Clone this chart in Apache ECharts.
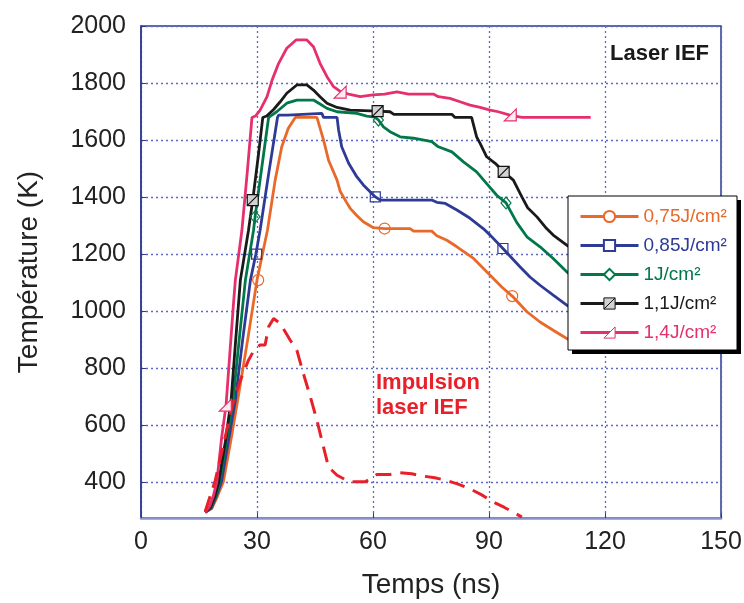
<!DOCTYPE html>
<html><head><meta charset="utf-8">
<script src="https://cdn.jsdelivr.net/npm/echarts@6/dist/echarts.min.js"></script>
<style>html,body{margin:0;padding:0;background:#fff}#c{width:744px;height:603px}</style>
</head><body><div id="c"></div>
<script>
// ---- data ----
const xTicks = [0, 30, 60, 90, 120, 150];
const yTicks = [400, 600, 800, 1000, 1200, 1400, 1600, 1800, 2000];
const names = ['0,75J/cm²', '0,85J/cm²', '1J/cm²', '1,1J/cm²', '1,4J/cm²'];

const t075 = [[16.6,293],[18.3,306],[19.8,350],[21.3,400],[23.3,550],[25.0,686],[27.6,900],[30.0,1108],[32.7,1283],[34.7,1459],[36.4,1576],[38.1,1641],[39.9,1679],[45.5,1679],[47.2,1600],[48.5,1529],[50.7,1459],[51.5,1420],[53.2,1380],[54.1,1360],[55.8,1335],[57.5,1313],[60.1,1292],[63.0,1289],[69.6,1289],[70.5,1280],[75.2,1280],[76.5,1264],[79.1,1248],[81.7,1225],[86.0,1184],[90.3,1125],[93.3,1084],[96.0,1052],[99.8,997],[103.2,961],[106.6,932],[110.1,903],[112.3,888]];
const t085 = [[16.6,293],[18.2,308],[19.5,350],[20.8,400],[22.7,550],[24.4,686],[26.3,900],[28.3,1108],[29.7,1199],[30.8,1283],[33.0,1480],[35.3,1679],[35.6,1687],[38.0,1687],[38.3,1693],[46.8,1693],[47.2,1679],[50.7,1679],[51.1,1635],[51.9,1576],[53.7,1518],[55.8,1471],[57.5,1442],[59.7,1412],[60.6,1400],[61.9,1389],[75.2,1389],[76.5,1381],[78.7,1377],[81.7,1354],[85.1,1325],[88.5,1289],[90.3,1266],[93.6,1219],[98.0,1155],[100.6,1119],[103.2,1090],[106.6,1055],[110.1,1020],[112.3,1000]];
const t100 = [[16.6,293],[18.1,310],[19.3,350],[20.4,400],[22.2,550],[23.8,686],[25.4,900],[27.0,1108],[29.1,1283],[29.5,1330],[31.2,1500],[33.0,1679],[35.1,1699],[37.7,1729],[40.3,1740],[44.6,1740],[46.3,1726],[48.1,1711],[50.7,1699],[55.8,1693],[58.4,1684],[60.5,1680],[61.4,1670],[62.7,1646],[64.4,1629],[67.0,1611],[70.5,1606],[75.2,1594],[76.9,1576],[80.4,1558],[83.4,1523],[86.8,1488],[89.4,1447],[92.0,1406],[94.4,1379],[97.2,1310],[99.8,1260],[103.2,1225],[106.6,1184],[110.1,1137],[112.3,1115]];
const t110 = [[16.6,293],[18.0,312],[19.1,350],[20.1,400],[21.8,540],[23.3,686],[24.5,900],[25.7,1108],[27.8,1283],[28.9,1389],[30.3,1540],[31.5,1679],[32.5,1684],[34.3,1707],[36.0,1734],[37.7,1764],[40.3,1793],[42.9,1793],[44.6,1775],[46.3,1752],[48.1,1729],[50.7,1714],[54.1,1705],[61.2,1701],[64.4,1699],[65.4,1690],[80.4,1690],[81.2,1679],[85.5,1679],[86.8,1611],[87.7,1588],[89.4,1541],[91.6,1518],[93.8,1488],[96.3,1459],[98.5,1400],[100.0,1362],[102.4,1330],[104.9,1289],[106.6,1266],[110.1,1231],[112.3,1210]];
const t140 = [[16.6,293],[17.8,315],[18.7,350],[19.6,400],[20.9,560],[22.0,669],[23.1,874],[24.0,1040],[24.4,1108],[26.1,1283],[27.5,1490],[28.7,1679],[29.6,1684],[30.8,1705],[32.6,1752],[33.9,1810],[35.6,1869],[37.7,1922],[40.1,1951],[42.9,1951],[44.6,1927],[46.3,1869],[48.1,1822],[49.8,1787],[51.8,1768],[53.7,1761],[56.7,1752],[60.0,1758],[63.0,1761],[66.2,1769],[69.2,1761],[75.6,1761],[76.9,1752],[79.9,1746],[82.5,1734],[85.1,1722],[87.7,1714],[90.3,1705],[92.4,1699],[95.4,1687],[98.5,1679],[116.3,1679]];
const pulse = [[16.6,296],[19.2,405],[21.4,534],[23.5,663],[25.7,757],[27.8,827],[29.5,868],[30.8,880],[32.1,880],[33.0,944],[34.3,973],[36.0,956],[38.6,897],[40.3,862],[42.0,780],[43.8,698],[45.5,616],[47.2,522],[48.5,452],[50.7,423],[53.2,405],[54.5,400],[58.0,400],[61.0,426],[64.4,426],[67.0,432],[70.0,428],[73.0,420],[76.0,414],[79.0,405],[82.0,392],[85.0,376],[88.0,355],[91.0,330],[94.0,310],[97.0,288],[98.5,276]];

const m075 = [[30.3,1108],[63.0,1289],[96.0,1052]];
const m085 = [[29.9,1199],[60.6,1400],[93.6,1219]];
const m100 = [[29.5,1330],[61.4,1670],[94.4,1379]];
const m110 = [[28.9,1389],[61.2,1701],[93.8,1488]];
const m140 = [[21.8,669],[51.5,1768],[95.5,1688]];

// ---- styling ----
const FONT = '"Liberation Sans", Arial, Helvetica, sans-serif';
const colors = ['#e8692a', '#2e3b96', '#00784a', '#1a1a1a', '#e6306e'];
const SQ_DIAG = 'path://M0,0H10V10H0ZM0,10L10,0';
const TRI = 'path://M0,10L10,0L10,10Z';
const lineSymbols = ['emptyCircle', 'emptyRect', 'emptyDiamond', SQ_DIAG, TRI];
const lineData = [t075, t085, t100, t110, t140];
const markData = [m075, m085, m100, m110, m140];
const markSymbols = ['circle', 'rect', 'diamond', SQ_DIAG, TRI];
const markSizes = [11, 10, [10, 12], 11, 12];
const markFill = ['rgba(0,0,0,0)', 'rgba(0,0,0,0)', 'rgba(0,0,0,0)', '#d2d2d2', '#fdecf1'];
const markBorder = ['#e8692a', '#2e3b96', '#00784a', '#111', '#e6306e'];

const series = [];
lineData.forEach((d, i) => {
  series.push({
    type: 'line', name: names[i], data: d, symbol: lineSymbols[i], showSymbol: false,
    lineStyle: { color: colors[i], width: 2.8 }, itemStyle: { color: colors[i] },
    silent: true, animation: false, z: 2
  });
});
series.push({
  type: 'line', name: 'pulse', data: pulse, symbol: 'none', showSymbol: false,
  lineStyle: { color: '#e8202a', width: 3, type: [16, 9] }, silent: true, animation: false, z: 3
});
markData.forEach((d, i) => {
  series.push({
    type: 'scatter', name: 'mk' + i, data: d, symbol: markSymbols[i], symbolSize: markSizes[i],
    itemStyle: { color: markFill[i], borderColor: markBorder[i], borderWidth: 1.2, opacity: 1 },
    silent: true, animation: false, z: 3
  });
});

const legendData = names.map((n, i) => {
  const o = { name: n, textStyle: { color: colors[i] } };
  if (i === 3) o.itemStyle = { color: '#d2d2d2', borderColor: '#111', borderWidth: 1 };
  if (i === 4) o.itemStyle = { color: '#fff', borderColor: colors[4], borderWidth: 1 };
  return o;
});

const chart = echarts.init(document.getElementById('c'), null, { renderer: 'canvas' });
chart.setOption({
  animation: false,
  backgroundColor: '#fff',
  grid: { left: 141, right: 23, top: 26, bottom: 85, show: true, borderColor: '#2b3990', borderWidth: 1.5, outerBoundsMode: 'none', containLabel: false },
  xAxis: {
    type: 'value', min: xTicks[0], max: xTicks[xTicks.length - 1], interval: 30,
    axisLine: { show: true, lineStyle: { color: '#8a93cf', width: 2.5 } },
    axisTick: { show: true, inside: true, length: 5, lineStyle: { color: '#2b3990', width: 1 } },
    axisLabel: { color: '#222', fontSize: 25, fontFamily: FONT, margin: 12 },
    splitLine: { show: true, lineStyle: { color: '#5b6ac4', width: 1.3, type: [2, 3] } },
    name: 'Temps (ns)', nameLocation: 'middle', nameGap: 53,
    nameTextStyle: { color: '#222', fontSize: 28, fontFamily: FONT }
  },
  yAxis: {
    type: 'value', min: 273, max: 2000,
    axisLine: { show: true, lineStyle: { color: '#2b3990', width: 1.5 } },
    axisTick: { show: true, inside: true, length: 5, customValues: yTicks, lineStyle: { color: '#2b3990', width: 1 } },
    axisLabel: { color: '#222', fontSize: 25, fontFamily: FONT, margin: 15, customValues: yTicks, formatter: v => String(v) },
    splitLine: { show: true, lineStyle: { color: '#5b6ac4', width: 1.3, type: [2, 3] } },
    name: 'Température (K)', nameLocation: 'middle', nameGap: 98, nameRotate: 90,
    nameTextStyle: { color: '#222', fontSize: 28, fontFamily: FONT }
  },
  legend: {
    data: legendData, orient: 'vertical', left: 568, top: 196, z: 6,
    padding: [11, 10, 12, 11], itemWidth: 58, itemHeight: 14, itemGap: 10,
    backgroundColor: 'transparent', borderWidth: 0,
    lineStyle: { width: 3 },
    textStyle: { fontSize: 19, fontFamily: FONT },
    selectedMode: false
  },
  graphic: [
    { type: 'rect', z: 5, shape: { x: 572, y: 200, width: 169, height: 154 }, style: { fill: '#000' } },
    { type: 'rect', z: 5, shape: { x: 568, y: 196, width: 169, height: 154 }, style: { fill: '#fff', stroke: '#000', lineWidth: 1 } },
    { type: 'text', left: 610, top: 43, style: { text: 'Laser IEF', font: 'bold 22px ' + FONT, fill: '#1a1a1a' } },
    { type: 'text', left: 376, top: 372, style: { text: 'Impulsion', font: 'bold 22px ' + FONT, fill: '#e8202a' } },
    { type: 'text', left: 376, top: 397, style: { text: 'laser IEF', font: 'bold 22px ' + FONT, fill: '#e8202a' } }
  ],
  series: series
});
</script>
</body></html>
